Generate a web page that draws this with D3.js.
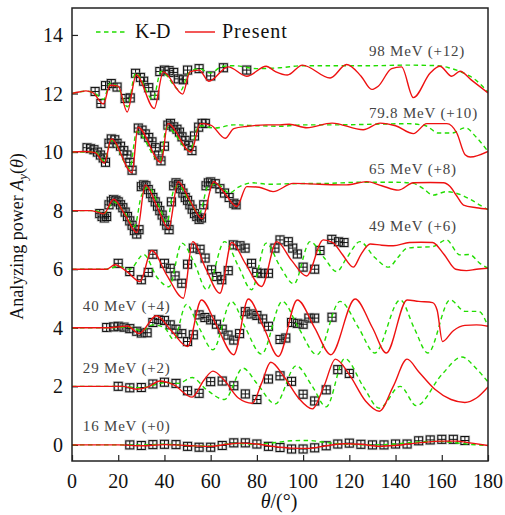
<!DOCTYPE html>
<html><head><meta charset="utf-8">
<script src="https://cdn.jsdelivr.net/npm/d3@7"></script>
<style>body{margin:0;background:#fff;} svg{display:block;}</style>
</head><body>
<svg id="chart" width="505" height="515"></svg>
<script>
// ---------------- data ----------------
const energyLabels = ["16 MeV (+0)", "29 MeV (+2)", "40 MeV (+4)", "49 MeV (+6)", "65 MeV (+8)", "79.8 MeV (+10)", "98 MeV (+12)"];
const offsets = [0, 2, 4, 6, 8, 10, 12];
const xTicks = [0, 20, 40, 60, 80, 100, 120, 140, 160, 180];
const yTicks = [0, 2, 4, 6, 8, 10, 12, 14];
const legendLabels = ["K-D", "Present"];

// measured analyzing power [theta, Ay] (without offset)
const data16 = [[25,0.0],[30,-0.02],[35,0.01],[40,0.02],[45,0.01],[50,-0.05],[55,-0.08],[60,-0.08],[65,-0.02],[70,0.07],[75,0.07],[80,0.03],[85,-0.05],[90,-0.09],[95,-0.14],[100,-0.14],[105,-0.1],[110,-0.03],[115,0.03],[120,0.06],[125,0.02],[130,0.0],[135,0.0],[140,0.03],[145,0.03],[150,0.14],[155,0.17],[160,0.19],[165,0.19],[170,0.15]];
const data29 = [[20,0],[25,-0.05],[30,-0.04],[35,0.08],[40,0.14],[45,0.1],[50,-0.15],[55,-0.24],[60,0.16],[65,0.18],[70,0.02],[75,-0.26],[80,-0.45],[85,0.25],[90,0.36],[95,0.17],[100,-0.27],[105,-0.5],[110,-0.12],[115,0.57],[120,0.44]];
const data40 = [[15,0.01],[18,0.03],[20,0.05],[22.5,0.02],[25,-0.03],[28,-0.12],[30,-0.18],[32.5,-0.17],[35,0.18],[37.5,0.28],[40,0.25],[42.5,0.1],[45,-0.05],[47.5,-0.2],[50,-0.47],[52.5,-0.24],[55,0.44],[57.5,0.35],[60,0.27],[62.5,0.12],[65,-0.05],[67.5,-0.25],[70,-0.42],[72.5,-0.2],[75,0.55],[77.5,0.47],[80,0.42],[82.5,0.3],[85,0.05],[90,-0.4],[92.5,-0.35],[95,0.18],[97.5,0.15],[100,0.12],[102.5,0.33],[105,0.33],[112.5,0.36]];
const data49 = [[20,0.2],[25,-0.08],[30,-0.36],[33,-0.11],[35,0.51],[40,0.2],[42.5,0.03],[44.6,-0.23],[47.5,-0.48],[50,0.17],[52.5,0.72],[55.4,0.68],[57.6,0.38],[60.4,-0.02],[62.6,-0.25],[64.8,-0.36],[67.6,-0.05],[69.8,0.83],[72.7,0.8],[74.9,0.72],[77.7,0.2],[79.9,-0.11],[82.1,-0.14],[85,-0.14],[87.8,0.72],[90,1.0],[93.6,0.94],[95.5,0.72],[97.5,0.52],[100,0.07],[105,0.0],[107.3,0.64],[112.4,1.02],[115.3,0.94],[117.7,0.91]];
const data65 = [[12,-0.1],[13,-0.2],[14,-0.25],[15,-0.2],[16,0.2],[17,0.32],[18,0.38],[19,0.35],[20,0.3],[21,0.2],[22,0.1],[23,-0.05],[24,-0.2],[25,-0.35],[26,-0.5],[27,-0.68],[28,-0.8],[29,-0.65],[30,0.82],[31,0.88],[32,0.85],[33,0.72],[34,0.58],[35,0.45],[36,0.3],[37,0.15],[38,0.0],[39,-0.15],[40,-0.35],[41,-0.5],[42,-0.65],[43,0.3],[44,0.85],[45,0.95],[46,0.9],[47,0.75],[48,0.6],[49,0.45],[50,0.35],[51,0.2],[52,0.05],[53,-0.1],[54,-0.2],[55,-0.3],[56,-0.25],[57,0.2],[58,0.85],[59,0.95],[60,0.98],[62,0.92],[64,0.75],[66,0.6],[68,0.45],[70,0.25],[71,0.2]];
const data80 = [[6.5,0.15],[8,0.12],[9.5,0.08],[11,0.0],[12.3,-0.1],[13.5,-0.2],[14.5,-0.35],[16,0.3],[17,0.45],[18.5,0.42],[19.5,0.3],[21,0.2],[22.4,0.05],[23.8,-0.1],[25,-0.35],[26,-0.62],[28.7,0.82],[30.3,0.75],[31.7,0.62],[33.2,0.5],[34.6,0.35],[36.1,0.15],[37.5,-0.1],[38.5,-0.3],[40,0.2],[41.5,0.92],[42.6,0.98],[44,0.86],[45.4,0.78],[46.5,0.68],[47.6,0.52],[49,0.4],[50.5,0.22],[51.9,0.05],[53,0.55],[54.8,0.85],[56.3,0.98],[57.7,0.98]];
const data98 = [[10,0.07],[12.5,-0.34],[14.5,0.27],[17,0.34],[19.5,0.22],[23,-0.17],[25.2,-0.15],[27.5,0.69],[29.6,0.55],[31,0.42],[33.2,0.2],[35.8,-0.06],[38,0.75],[40,0.8],[42,0.78],[44,0.72],[46,0.5],[48.2,0.47],[50,0.8],[55,0.85],[60,0.6],[65.5,0.88],[75.6,0.8]];

// "Present" calculation [theta, Ay]
const present16 = [[0,0],[10,0],[20,0],[30,-0.03],[40,0.01],[50,-0.02],[60,-0.05],[67,0.02],[73,0.06],[80,0.03],[87,-0.05],[95,-0.11],[102,-0.12],[110,-0.03],[118,0.04],[125,0.02],[133,-0.05],[140,-0.02],[150,0.07],[160,0.13],[166,0.13],[173,0.06],[180,-0.02]];
const present29 = [[0,0],[15,0],[22,0.0],[28,-0.1],[33,-0.02],[38,0.18],[44,0.05],[52,-0.37],[57,0.2],[61,0.52],[66,0.2],[72,-0.4],[78,-0.58],[82,0.1],[86,0.82],[92,0.3],[98,-0.4],[104,-0.77],[109,0.0],[114,0.93],[120,0.4],[127,-0.5],[133,-0.85],[139,0.0],[145,0.93],[150,0.5],[157,-0.1],[164,-0.45],[170,-0.55],[175,-0.4],[180,-0.02]];
const present40 = [[0,0],[15,0],[20,0.03],[24,0.06],[29,-0.2],[36.5,0.41],[43,-0.1],[50,-0.64],[56,0.95],[63,0.0],[70,-0.92],[76.3,0.98],[83,0.0],[89.3,-0.98],[97.5,0.95],[105,0.0],[112,-0.92],[122.5,0.98],[130,0.0],[136,-0.86],[145,0.95],[150,0.9],[156,0.86],[158,0.6],[160.3,-0.47],[165,-0.1],[170,0.08],[175,0.1],[180,0.05]];
const present49 = [[0,0],[15,0],[18.6,0.15],[24,-0.1],[29.4,-0.42],[34.5,0.64],[41,-0.2],[48.2,-0.99],[52.2,0.94],[58,0.0],[64,-0.82],[69.1,0.91],[75,0.2],[82,-0.59],[88.6,0.94],[95,0.3],[101.5,-0.23],[108.7,1.0],[113,0.9],[117,0.5],[121.7,0.07],[125,0.5],[129,0.86],[134,0.82],[139,0.8],[146,0.91],[151,0.92],[156,0.91],[161,0.5],[166,0.0],[170.7,-0.05],[175,0.0],[180,0.03]];
const present65 = [[0,0],[8,0],[11,-0.05],[13.7,-0.11],[18,0.39],[23,-0.15],[28.1,-0.75],[31.7,0.88],[37,0.1],[41.8,-0.62],[45.9,0.99],[51,0.35],[56.3,-0.28],[61.3,0.99],[66,0.6],[71.3,0.14],[75.6,0.82],[81,0.8],[87,0.65],[95.7,0.93],[107,0.9],[118.8,0.88],[127.5,0.99],[134,0.85],[141.2,0.7],[147.7,0.95],[155,0.96],[160.7,0.95],[163.6,0.82],[166.5,0.5],[169.4,0.19],[175,0.1],[180,0.05]];
const present80 = [[0,0],[5,0.02],[10,-0.02],[14,-0.38],[17,0.45],[26,-0.7],[28.5,0.85],[38.5,-0.35],[41.5,0.97],[51.5,0.0],[55.5,0.97],[60,0.92],[66.3,0.47],[70,0.8],[76,0.88],[84,0.93],[90,0.93],[94,0.95],[101.6,0.83],[112.5,0.99],[126,0.76],[133.3,0.99],[140,0.9],[147.7,0.63],[153.5,0.97],[162.2,0.97],[166.5,0.65],[170.1,-0.09],[172.3,-0.17],[180,0.02]];
const present98 = [[0,0],[3,0.05],[6,0.09],[9,0.03],[13.6,-0.36],[16.4,0.28],[20,0.25],[23.9,-0.63],[27.8,0.63],[35.6,-0.51],[39.5,0.74],[47.9,-0.02],[51,0.74],[55,0.8],[59.2,0.42],[67.6,0.91],[75.6,0.59],[84,0.93],[88,0.75],[93.2,0.63],[99.7,0.97],[111.7,0.53],[118.8,0.99],[125,0.6],[129.7,0.14],[132.5,0.25],[138.3,0.85],[142.6,0.91],[147.7,-0.14],[155,0.7],[159.2,0.93],[164.3,0.59],[167.9,0.76],[173,0.45],[180,0.02]];

// K-D calculation [theta, Ay]
const kd16 = [[0,0],[10,0],[20,0],[30,0],[40,0.02],[50,-0.02],[60,-0.04],[70,0.05],[80,0.02],[88,0.08],[95,0.14],[102,0.15],[110,0.08],[120,0.02],[130,0.0],[140,0.03],[150,0.1],[158,0.12],[165,0.08],[172,0.02],[180,-0.02]];
const kd29 = [[0,0],[20,0],[30,-0.05],[40,0.12],[46,0.1],[52,0.3],[58,-0.1],[66,-0.45],[74,0.62],[80,0.1],[88,-0.6],[97,0.7],[104,0.0],[110,-0.7],[118,0.95],[126,0.0],[133,-0.75],[142,0.0],[149,-0.66],[160,0.4],[168.7,1.0],[175,0.6],[180,0.15]];
const kd40 = [[0,0],[15,0],[25,0.02],[30,-0.1],[35,0.1],[40,0.0],[44,-0.4],[49.5,0.8],[55,0.0],[61,-0.75],[69,0.9],[75,0.0],[82,-0.9],[91,0.9],[98,0.0],[106,-0.92],[116,0.9],[124,0.0],[131,-0.86],[142,0.95],[148,0.0],[154,-0.86],[163.6,0.95],[170,0.56],[176,0.56],[180,0.05]];
const kd49 = [[0,0],[15,0],[20,0.1],[25,0.0],[31,0.5],[37,-0.3],[42,-0.6],[47.5,0.89],[53,0.2],[58.3,-0.7],[66,0.94],[72,0.1],[77.7,-0.7],[84,0.89],[90,0.1],[96,-0.5],[103,0.94],[109,0.4],[114.5,-0.08],[119,0.4],[124.6,0.94],[131,0.4],[137,0.07],[141,0.4],[145,0.72],[150,0.75],[156,0.77],[162,1.0],[167.8,0.49],[172,0.5],[176.5,0.2],[180,0.03]];
const kd65 = [[0,0],[10,0],[14,-0.1],[18,0.3],[23,-0.1],[27,-0.55],[30,0.5],[33,0.8],[38,0.1],[41,-0.4],[44,0.7],[46,0.85],[51,0.3],[55,-0.1],[59,0.85],[63,0.9],[68,0.6],[72,0.8],[78,0.95],[85,0.9],[95,0.92],[110,0.93],[125,0.97],[140,0.97],[147.7,0.93],[152,0.75],[156.3,0.53],[162,0.65],[166,0.6],[172,0.4],[176.5,0.19],[180,0.03]];
const kd80 = [[0,0],[10,0.0],[14,-0.3],[17,0.4],[25,-0.55],[28,0.7],[38,-0.3],[41,0.85],[51,0.05],[55,0.9],[62,0.82],[70,0.93],[80,0.9],[90,0.88],[100,0.93],[115,0.93],[130,0.95],[145,0.97],[153,0.9],[158.5,0.65],[164.3,0.65],[170.1,0.83],[175,0.5],[180,0.02]];
const kd98 = [[0,0],[6,0.08],[10,0.0],[13.6,-0.2],[16.5,0.35],[20,0.2],[24,-0.45],[27.5,0.7],[35,-0.2],[38.5,0.75],[47,0.1],[50.5,0.7],[55,0.85],[60,0.7],[65,0.93],[70,0.95],[80,0.85],[90,0.88],[100,0.95],[115,0.95],[130,0.95],[145,0.97],[158,0.95],[163,0.88],[168,0.75],[174,0.5],[180,0.05]];

const measured = [data16, data29, data40, data49, data65, data80, data98];
const present = [present16, present29, present40, present49, present65, present80, present98];
const kd = [kd16, kd29, kd40, kd49, kd65, kd80, kd98];

// ---------------- layout ----------------
const L = 72, R = 488, T = 8, B = 461;
const serif = "'Liberation Serif','Times New Roman',serif";
const svg = d3.select("#chart");

const x = d3.scaleLinear().domain([0, 180]).range([L, R]);
const y = d3.scaleLinear().domain([-0.55, 14.92]).range([B, T]);

svg.append("defs").append("clipPath").attr("id", "clip")
  .append("rect").attr("x", L).attr("y", T).attr("width", R - L).attr("height", B - T);

// axes (ticks inward)
const xAxis = svg.append("g").attr("transform", `translate(0,${B})`)
  .call(d3.axisTop(x).tickValues(xTicks).tickSize(6).tickFormat(""));
const yAxis = svg.append("g").attr("transform", `translate(${L},0)`)
  .call(d3.axisRight(y).tickValues(yTicks).tickSize(6).tickFormat(""));
[xAxis, yAxis].forEach(g => {
  g.select(".domain").remove();
  g.selectAll(".tick line").attr("stroke", "#222").attr("stroke-width", 1.2);
});
svg.append("g").selectAll("text").data(xTicks).join("text")
  .attr("x", d => x(d)).attr("y", B + 27).attr("text-anchor", "middle")
  .attr("font-family", serif).attr("font-size", 20).attr("fill", "#111").text(d => d);
svg.append("g").selectAll("text").data(yTicks).join("text")
  .attr("x", L - 9).attr("y", d => y(d) + 7).attr("text-anchor", "end")
  .attr("font-family", serif).attr("font-size", 20).attr("fill", "#111").text(d => d);

// axis titles
const xl = svg.append("text").attr("x", 279).attr("y", 508).attr("text-anchor", "middle")
  .attr("font-family", serif).attr("font-size", 20).attr("fill", "#111");
xl.append("tspan").attr("font-style", "italic").text("θ");
xl.append("tspan").text("/(°)");
const yl = svg.append("text").attr("transform", `translate(23,${(T + B) / 2 + 2}) rotate(-90)`)
  .attr("text-anchor", "middle").attr("font-family", serif).attr("font-size", 18).attr("fill", "#111");
yl.append("tspan").text("Analyzing power ");
yl.append("tspan").attr("font-style", "italic").text("A");
yl.append("tspan").attr("font-style", "italic").attr("font-size", 13).attr("dy", 4).text("y");
yl.append("tspan").attr("dy", -4).text("(");
yl.append("tspan").attr("font-style", "italic").text("θ");
yl.append("tspan").text(")");

// markers
const plot = svg.append("g").attr("clip-path", "url(#clip)");
const mk = 8;
measured.forEach((ds, i) => {
  const g = plot.append("g");
  const pts = g.selectAll("g").data(ds).join("g")
    .attr("transform", d => `translate(${x(d[0])},${y(d[1] + offsets[i])})`);
  pts.append("rect").attr("x", -mk / 2).attr("y", -mk / 2).attr("width", mk).attr("height", mk)
    .attr("fill", "none").attr("stroke", "#999").attr("stroke-width", 2.6).attr("stroke-opacity", 0.5);
  pts.append("rect").attr("x", -mk / 2).attr("y", -mk / 2).attr("width", mk).attr("height", mk)
    .attr("fill", "none").attr("stroke", "#111").attr("stroke-width", 1);
  pts.append("line").attr("x1", -mk / 2).attr("x2", mk / 2).attr("y1", 0).attr("y2", 0)
    .attr("stroke", "#111").attr("stroke-width", 1);
  pts.append("line").attr("y1", -mk / 2).attr("y2", mk / 2).attr("x1", 0).attr("x2", 0)
    .attr("stroke", "#111").attr("stroke-width", 1);
});

// curves
const lineGen = off => d3.line().x(d => x(d[0])).y(d => y(d[1] + off)).curve(d3.curveMonotoneX);
kd.forEach((ds, i) => {
  plot.append("path").attr("d", lineGen(offsets[i])(ds)).attr("fill", "none")
    .attr("stroke", "#22dd00").attr("stroke-width", 1.4).attr("stroke-dasharray", "4.5,3.5");
});
present.forEach((ds, i) => {
  plot.append("path").attr("d", lineGen(offsets[i])(ds)).attr("fill", "none")
    .attr("stroke", "#ee1111").attr("stroke-width", 1.4);
});

// energy labels
const labelPos = [[4.7, 0.47], [4.7, 0.47], [4.7, 0.58], [128.5, 1.31], [128.5, 1.24], [128.5, 1.17], [128.5, 1.27]];
svg.append("g").selectAll("text").data(energyLabels).join("text")
  .attr("x", (d, i) => x(labelPos[i][0])).attr("y", (d, i) => y(offsets[i] + labelPos[i][1]))
  .attr("font-family", serif).attr("font-size", 15).attr("letter-spacing", 0.8).attr("fill", "#444")
  .text(d => d);

// legend
const lg = svg.append("g");
lg.append("line").attr("x1", 96).attr("x2", 128).attr("y1", 32).attr("y2", 32)
  .attr("stroke", "#22dd00").attr("stroke-width", 1.4).attr("stroke-dasharray", "4.5,3.5");
lg.append("text").attr("x", 135).attr("y", 38).attr("font-family", serif).attr("font-size", 20)
  .attr("fill", "#111").text(legendLabels[0]);
lg.append("line").attr("x1", 185).attr("x2", 215).attr("y1", 32).attr("y2", 32)
  .attr("stroke", "#ee1111").attr("stroke-width", 1.4);
lg.append("text").attr("x", 222).attr("y", 38).attr("font-family", serif).attr("font-size", 20)
  .attr("letter-spacing", 1).attr("fill", "#111").text(legendLabels[1]);

// frame
svg.append("rect").attr("x", L).attr("y", T).attr("width", R - L).attr("height", B - T)
  .attr("fill", "none").attr("stroke", "#222").attr("stroke-width", 1.5);
</script>
</body></html>
